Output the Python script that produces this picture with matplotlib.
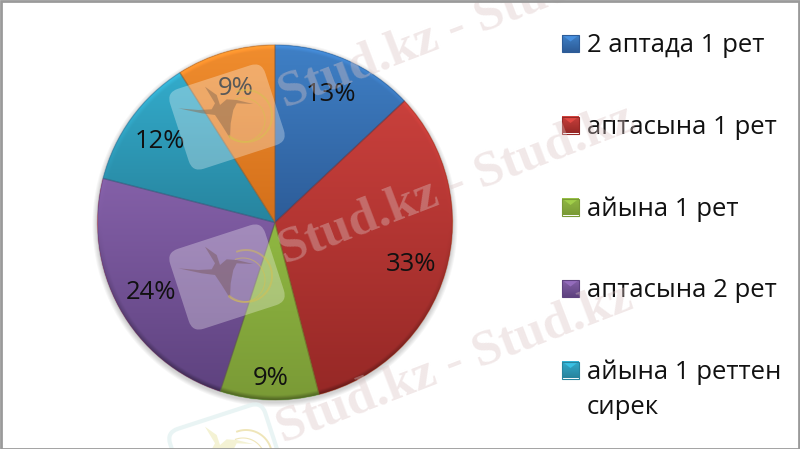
import numpy as np
import matplotlib
matplotlib.use("Agg")
import matplotlib.pyplot as plt
from matplotlib.patches import FancyBboxPatch, Rectangle, PathPatch, Polygon, Circle
from matplotlib.transforms import Affine2D

# chart data
labels = ["2 аптада 1 рет", "аптасына 1 рет", "айына 1 рет", "аптасына 2 рет", "айына 1 реттен\nсирек", ""]
values = [13, 33, 9, 24, 12, 9]
top_colors = ["#3f80c6", "#c9403c", "#90b842", "#8460a8", "#33abcb", "#f08d2e"]
bottom_colors = ["#2d5c98", "#962826", "#7a9a36", "#5e427f", "#27849e", "#d36f1a"]

W, H = 800, 449
cx, cy, R = 275, H - 222.5, 177.5

plt.rcParams["font.family"] = ["Open Sans", "DejaVu Sans"]
fig = plt.figure(figsize=(8, 4.49), dpi=100)
ax = fig.add_axes([0, 0, 1, 1])


def to_rgb(c):
    return np.array(matplotlib.colors.to_rgb(c))


wedges, _, pct = ax.pie(values, startangle=90, counterclock=False, radius=R, center=(cx, cy),
                        autopct="%.0f%%", pctdistance=0.8,
                        textprops={"fontsize": 18.5, "color": "#111111", "zorder": 6},
                        wedgeprops={"linewidth": 0})
for t in pct:
    px, py = t.get_position()
    t.set_position((px, py - 2))
pct[2].set_position((cx - 4, cy - 156))

# soft shadow under the pie
for dr in [1, 2, 3, 4, 5]:
    ax.add_patch(Circle((cx, cy - 2), R + dr, fc="black", ec="none", alpha=0.035, zorder=0))

# gradient and bevel for each slice, clipped to the wedge
yy, xx = np.mgrid[cy - R:cy + R:400j, cx - R:cx + R:400j]
rr = np.hypot(xx - cx, yy - cy) / R
for w, top, bottom in zip(wedges, top_colors, bottom_colors):
    pts = w.get_path().transformed(w.get_patch_transform()).vertices
    y0, y1 = pts[:, 1].min(), pts[:, 1].max()
    t = np.clip((yy - y0) / (y1 - y0), 0, 1)[..., None]
    img = to_rgb(bottom) * (1 - t) + to_rgb(top) * t
    # dark rim below, light rim above
    rim = np.clip((rr - 0.975) / 0.025, 0, 1)[..., None]
    up = ((yy - cy) / R)[..., None]
    shade = np.where(up > 0, 1 + 0.15 * up, 1 + 0.35 * up)
    img = np.clip(img * (1 - rim) + img * shade * rim, 0, 1)
    im = ax.imshow(img, extent=(cx - R, cx + R, cy - R, cy + R), origin="lower", zorder=2,
                   interpolation="bilinear")
    im.set_clip_path(w)
    w.set_zorder(1)
    edge = to_rgb(bottom) * 0.85
    ax.add_patch(PathPatch(w.get_path().transformed(w.get_patch_transform()), fc="none",
                           ec=edge, lw=1, zorder=3, alpha=0.35))

# legend
legend_y = [43.5, 125, 207, 288.5, 370]
for y, lab, top, bottom in zip(legend_y, labels, top_colors, bottom_colors):
    yt = H - y
    g = np.linspace(0, 1, 16)[..., None, None]
    ax.imshow(to_rgb(bottom) * (1 - g) + to_rgb(top) * g, extent=(562, 579, yt - 8.5, yt + 8.5),
              origin="lower", zorder=4)
    light = np.clip(to_rgb(top) * 1.12, 0, 1)
    ax.add_patch(Polygon([(562, yt + 8.5), (579, yt + 8.5), (570.5, yt + 2)], fc=light, ec="none", zorder=4))
    ax.add_patch(Rectangle((562, yt - 8.5), 17, 17, fc="none", ec=bottom, lw=0.8, zorder=4))
    parts = lab.split("\n")
    ax.text(587, yt - 2, parts[0], fontsize=18.5, va="center", ha="left", color="#111111", zorder=6)
    if len(parts) > 1:
        ax.text(587, yt - 38, parts[1], fontsize=18.5, va="center", ha="left", color="#111111", zorder=6)

# watermark text
mark = "Stud.kz - Stud.kz"
for x0, y0 in [(285, H - 108), (285, H - 264), (283, H - 443)]:
    ax.text(x0, y0, mark, fontsize=37, family="Liberation Serif", weight="bold", rotation=21,
            rotation_mode="anchor", ha="left", va="baseline", color="#dcc4c4", alpha=0.38, zorder=7,
            clip_on=True)

# watermark logo, the last one sits on white and is much paler
bird = [(-48.7, 8.7), (-28.7, 7), (-15.3, 7.7), (-12, 13.7), (-22, 30.3), (-10.3, 22), (-7, 12), (-0.3, 17.7),
        (9.7, 17), (26.3, 13), (9.7, 13.7), (6.3, 7), (3.7, -6.3), (3, -21.3), (-5.3, -8), (-12, 2), (-25.3, 3.7)]
for lx, ly, fill, bird_col, bird_a, ring_a in [(227, H - 117, 0.3, "#8a6a50", 0.5, 0.55),
                                               (227, H - 277, 0.3, "#7a5a60", 0.5, 0.5),
                                               (227, H - 457, 0.0, "#e8e4a0", 0.45, 0.4)]:
    tr = Affine2D().rotate_deg(18).translate(lx, ly) + ax.transData
    ax.add_patch(FancyBboxPatch((-40, -32), 80, 64, boxstyle="round,pad=10,rounding_size=12", fc="white",
                                ec="#e4f2f2" if fill == 0 else "white", lw=3 if fill == 0 else 0,
                                alpha=fill if fill else 0.8, fill=fill > 0, transform=tr, zorder=8))
    tr2 = Affine2D().translate(lx, ly) + ax.transData
    ax.add_patch(Polygon(bird, closed=True, fc=bird_col, ec="none", alpha=bird_a, transform=tr2, zorder=8))
    th = np.radians(np.linspace(-130, 110, 60))
    ax.plot(lx + 19 + 26 * np.cos(th), ly + 1 + 26 * np.sin(th), color="#d8c050", lw=1.4, alpha=ring_a, zorder=8)
    ax.plot(lx + 16 + 22 * np.cos(th), ly - 3 + 22 * np.sin(th), color="#d8c050", lw=0.8, alpha=ring_a, zorder=8)

ax.set_xlim(0, W)
ax.set_ylim(0, H)
ax.set_aspect("auto")
ax.axis("off")

# frame
ax.add_patch(Rectangle((0.5, 0.5), W - 2, H - 1.5, fc="none", ec="#9a9a9a", lw=2, zorder=10))

fig.savefig("out.png", dpi=100, facecolor="white")
